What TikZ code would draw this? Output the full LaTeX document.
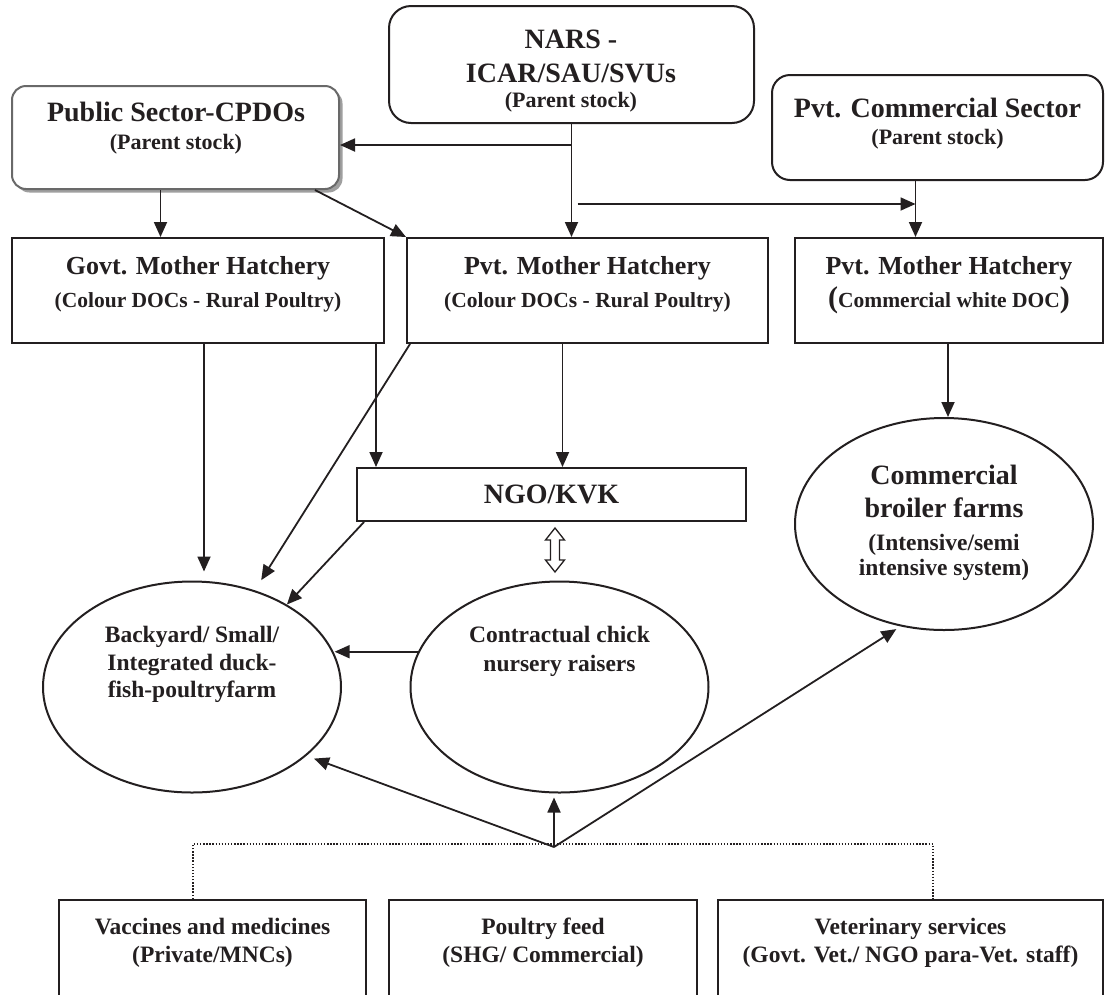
\documentclass[tikz,border=0pt]{standalone}
\usepackage{fontspec}
\setmainfont{Liberation Serif}
\usetikzlibrary{arrows.meta,shapes.geometric,shadows}
\definecolor{ink}{RGB}{35,31,32}
\definecolor{pubgray}{RGB}{105,105,105}
\begin{document}
\begin{tikzpicture}[x=1pt,y=-1pt, color=ink,
  box/.style={draw=ink, fill=white, rectangle, inner sep=0pt, line width=2pt},
  rbox/.style={box},
  ell/.style={draw=ink, fill=white, ellipse, inner sep=0pt, line width=2pt},
  arr/.style={-{Triangle[length=15pt,width=13pt]}, line width=1.8pt, draw=ink},
  dotline/.style={draw=ink, line width=1.4pt, dash pattern=on 1.4pt off 1.7pt},
  tx/.style={anchor=base, inner sep=0pt, text=ink},
  fbig/.style={tx, font={\fontsize{28}{32}\selectfont\bfseries}},
  fttl/.style={tx, font={\fontsize{26}{30}\selectfont\bfseries}},
  fsub/.style={tx, font={\fontsize{21.5}{26}\selectfont\bfseries}},
  fps/.style={tx, font={\fontsize{22}{26}\selectfont\bfseries}},
  fmid/.style={tx, font={\fontsize{23.5}{28}\selectfont\bfseries}}
]
\useasboundingbox (0,0) rectangle (1106,994);
\clip (0,0) rectangle (1106,994);
\fill[white] (0,0) rectangle (1106,994);

% boxes
\node[rbox, minimum width=365pt, minimum height=117pt, rounded corners=22pt] (nars) at (571.5,64.5) {};
\node[rbox, draw=pubgray, minimum width=327pt, minimum height=103pt, rounded corners=14pt,
  drop shadow={shadow xshift=3.5pt, shadow yshift=-3.5pt, fill=gray!75, opacity=1}] (pub) at (175.5,137.5) {};
\node[rbox, minimum width=331pt, minimum height=105pt, rounded corners=18pt] (pvtc) at (937.5,127.5) {};
\node[box, minimum width=372pt, minimum height=105pt] (govt) at (198,290.5) {};
\node[box, minimum width=361pt, minimum height=105pt] (pvtm) at (587.5,290.5) {};
\node[box, minimum width=308pt, minimum height=105pt] (pvtw) at (949,290.5) {};
\node[box, minimum width=389pt, minimum height=53pt] (ngo) at (551.5,494.5) {};
\node[ell, minimum width=298pt, minimum height=212pt] (broil) at (944,524) {};
\node[ell, minimum width=298pt, minimum height=211pt] (back) at (192,687) {};
\node[ell, minimum width=298pt, minimum height=211pt] (contr) at (559.5,687) {};
\node[box, minimum width=307pt, minimum height=120pt] (vacc) at (212.5,960) {};
\node[box, minimum width=308pt, minimum height=120pt] (feed) at (543,960) {};
\node[box, minimum width=385pt, minimum height=120pt] (vet) at (910.5,960) {};

% texts
\node[fbig] (naT1) at (571,48) {NARS -};
\node[fbig] (naT2) at (571,82) {ICAR/SAU/SVUs};
\node[fps]  (naT3) at (571,107) {(Parent stock)};
\node[fbig] (puT1) at (176,121) {Public Sector-CPDOs};
\node[fps]  (puT2) at (176,149) {(Parent stock)};
\node[fbig] (pcT1) at (937.5,117) {Pvt. Commercial Sector};
\node[fps]  (pcT2) at (937.5,144) {(Parent stock)};
\node[fttl] (goT1) at (198,274) {Govt. Mother Hatchery};
\node[fsub] (goT2) at (198,307) {(Colour DOCs - Rural Poultry)};
\node[fttl] (pmT1) at (587.5,274) {Pvt. Mother Hatchery};
\node[fsub] (pmT2) at (587.5,307) {(Colour DOCs - Rural Poultry)};
\node[fttl] (pwT1) at (949,274) {Pvt. Mother Hatchery};
\node[fsub] (pwT2) at (949,307) {{\fontsize{30}{30}\selectfont(}Commercial white DOC{\fontsize{30}{30}\selectfont)}};
\node[fbig] (ngT) at (551.5,503) {NGO/KVK};
\node[fbig] (brT1) at (944,484) {Commercial};
\node[fbig] (brT2) at (944,517) {broiler farms};
\node[fmid] (brT3) at (944,550) {(Intensive/semi};
\node[fmid] (brT4) at (944,575) {intensive system)};
\node[fmid] (baT1) at (192,642) {Backyard/ Small/};
\node[fmid] (baT2) at (192,670) {Integrated duck-};
\node[fmid] (baT3) at (192,697) {fish-poultryfarm};
\node[fmid] (coT1) at (559.5,642) {Contractual chick};
\node[fmid] (coT2) at (559.5,671) {nursery raisers};
\node[fmid] (vaT1) at (212.5,934) {Vaccines and medicines};
\node[fmid] (vaT2) at (212.5,962) {(Private/MNCs)};
\node[fmid] (feT1) at (543,934) {Poultry feed};
\node[fmid] (feT2) at (543,962) {(SHG/ Commercial)};
\node[fmid] (veT1) at (910.5,934) {Veterinary services};
\node[fmid] (veT2) at (910.5,962) {(Govt. Vet./ NGO para-Vet. staff)};

% connectors
\draw[arr] (nars.south) -- (nars.south |- pvtm.north);
\coordinate (j1) at ([yshift=-21pt]nars.south);
\draw[arr] (j1) -- (j1 -| pub.east);
\coordinate (j2) at ([xshift=6pt,yshift=-80pt]nars.south);
\coordinate (c3) at ([xshift=-22pt]pvtc.south);
\draw[arr] (c3) -- (c3 |- pvtw.north);
\draw[arr] (j2) -- (j2 -| c3);
\coordinate (p1) at ([xshift=-15pt]pub.south);
\draw[arr] (p1) -- (p1 |- govt.north);
\coordinate (p2) at ([xshift=-25pt]pub.south east);
\draw[arr] (p2) -- (pvtm.north west);
\coordinate (g1) at ([xshift=6pt]govt.south);
\draw[arr, shorten >=9pt] (g1) -- (g1 |- back.north);
\coordinate (g2) at ([xshift=-9pt]govt.south east);
\draw[arr] (g2) -- (g2 |- ngo.north);
\coordinate (m1) at ([xshift=-25pt]pvtm.south);
\draw[arr] (m1) -- (m1 |- ngo.north);
\coordinate (m2) at ([xshift=4pt]pvtm.south west);
\draw[arr, shorten >=12pt] (m2) -- (back.57);
\coordinate (n1) at ([xshift=8pt]ngo.south west);
\draw[arr] (n1) -- (back.41.5);
\coordinate (w1) at ([xshift=-1pt]pvtw.south);
\draw[arr] (w1) -- (w1 |- broil.north);
\coordinate (k1) at (contr.166.4);
\draw[arr] (k1) -- (k1 -| back.13.6);
% open double arrow between NGO/KVK and nursery raisers
\draw[line width=1.3pt, fill=white] (555,528) -- (545.5,540) -- (550.5,540) -- (550.5,560) -- (545.5,560)
  -- (555,572) -- (564.5,560) -- (559.5,560) -- (559.5,540) -- (564.5,540) -- cycle;
% inputs hub
\coordinate (hub) at (554,847);
\draw[arr, shorten >=8pt] (hub) -- (back.-31);
\draw[arr, shorten >=4pt] (hub) -- (hub |- contr.south);
\draw[arr, shorten >=5pt] (hub) -- (broil.247);
\coordinate (dl) at (554,844);
\coordinate (v1) at ([xshift=-19.5pt]vacc.north);
\coordinate (v2) at ([xshift=22.5pt]vet.north);
\draw[dotline] (v1) |- (dl) -| (v2);
\end{tikzpicture}
\end{document}
